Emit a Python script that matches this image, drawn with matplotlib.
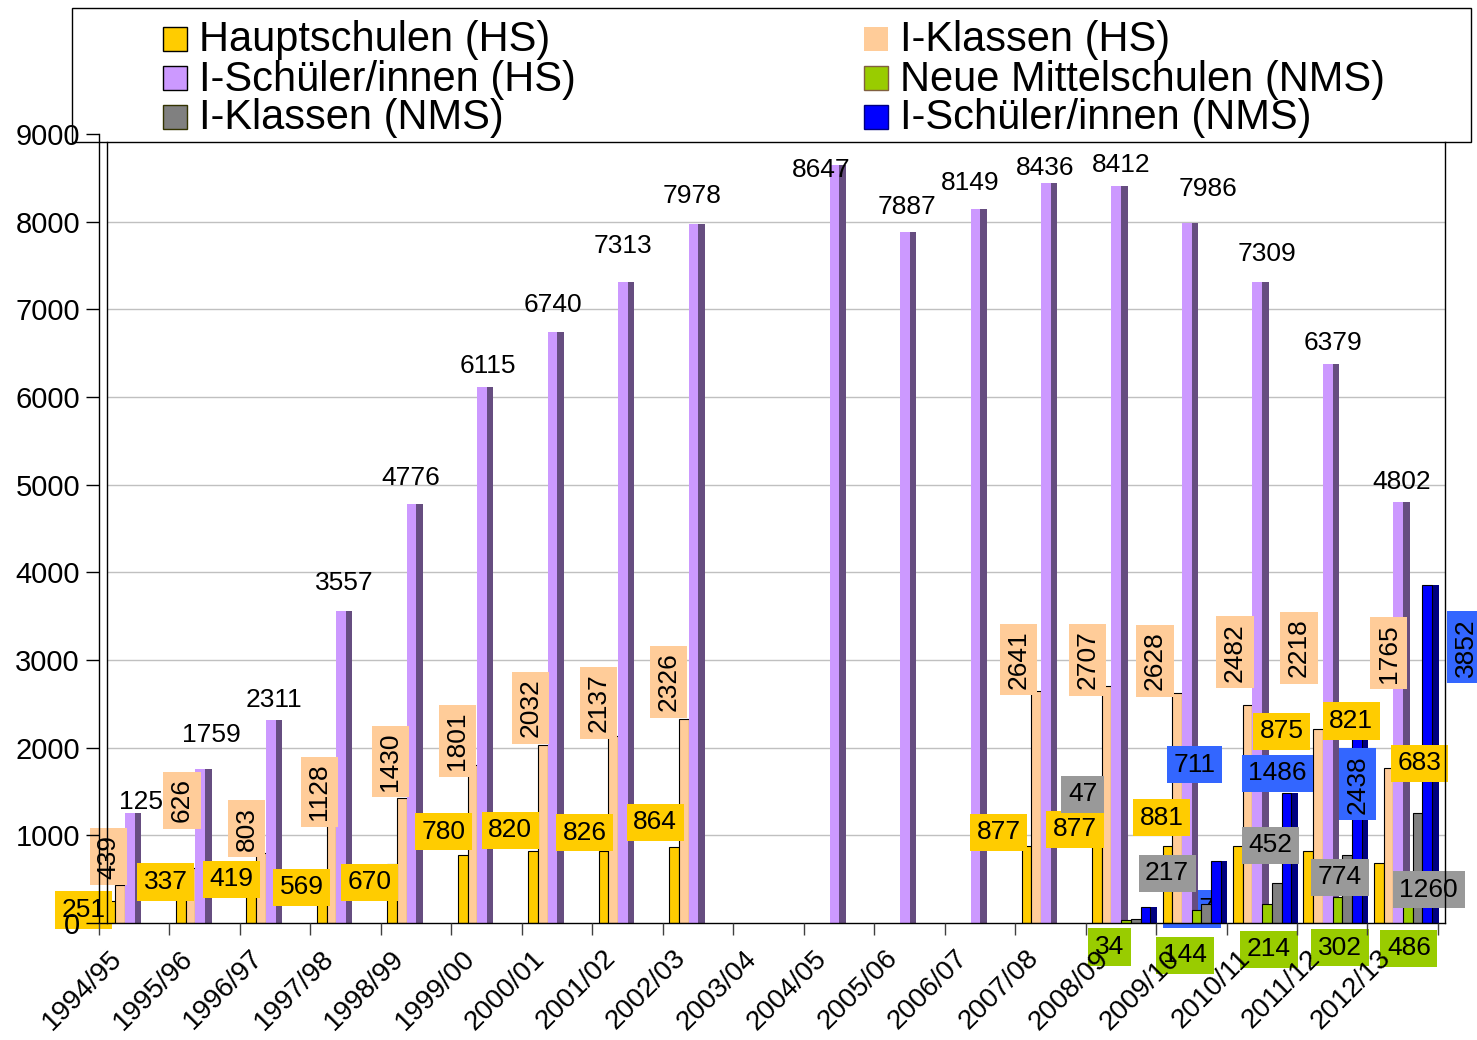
import matplotlib
matplotlib.use('Agg')
import matplotlib.pyplot as plt
import numpy as np
from matplotlib.patches import Rectangle
from matplotlib.transforms import ScaledTranslation

plt.rcParams['font.family'] = ['Liberation Sans', 'DejaVu Sans']

nan = np.nan
years = ['1994/95', '1995/96', '1996/97', '1997/98', '1998/99', '1999/00', '2000/01',
         '2001/02', '2002/03', '2003/04', '2004/05', '2005/06', '2006/07', '2007/08',
         '2008/09', '2009/10', '2010/11', '2011/12', '2012/13']
hs = [251, 337, 419, 569, 670, 780, 820, 826, 864, nan, nan, nan, nan, 877, 877, 881, 875, 821, 683]
ik_hs = [439, 626, 803, 1128, 1430, 1801, 2032, 2137, 2326, nan, nan, nan, nan, 2641, 2707, 2628, 2482, 2218, 1765]
is_hs = [1250, 1759, 2311, 3557, 4776, 6115, 6740, 7313, 7978, nan, 8647, 7887, 8149, 8436, 8412, 7986, 7309, 6379, 4802]
nms = [nan, nan, nan, nan, nan, nan, nan, nan, nan, nan, nan, nan, nan, nan, 34, 144, 214, 302, 486]
ik_nms = [nan, nan, nan, nan, nan, nan, nan, nan, nan, nan, nan, nan, nan, nan, 47, 217, 452, 774, 1260]
is_nms = [nan, nan, nan, nan, nan, nan, nan, nan, nan, nan, nan, nan, nan, nan, 177, 711, 1486, 2438, 3852]
names = ['Hauptschulen (HS)', 'I-Klassen (HS)', 'I-Schüler/innen (HS)',
         'Neue Mittelschulen (NMS)', 'I-Klassen (NMS)', 'I-Schüler/innen (NMS)']

# styles: front colour, side colour, edge colour, label box colour
styles = [('#FFCC00', '#806600', 'black', '#FFCC00'),
          ('#FFCC99', '#806650', 'black', '#FFCC99'),
          ('#CC99FF', '#664D80', 'none', None),
          ('#99CC00', '#4D6600', 'black', '#99CC00'),
          ('#808080', '#404040', 'black', '#999999'),
          ('#0000FF', '#000080', 'black', '#3366FF')]

# label placement (pixel offsets from top-centre of bar) and rotation
lab_off = [
    {0: (-27, -9), 1: (-15, 11.5), 2: (-20, 7), 3: (-20, -14), 4: (-23, -18), 5: (-19, 23),
     6: (-23, 21), 7: (-19, 18), 8: (-19, 25), 13: (-28, 14), 14: (-22, 17), 15: (-6, 28),
     16: (44, 115), 17: (43, 130), 18: (41, 100)},
    {0: (-11.5, 28), 1: (-8.5, 68), 2: (-14.5, 24), 3: (-12, 32), 4: (-11.5, 36), 5: (-15, 24),
     6: (-12.5, 37), 7: (-15, 33), 8: (-15.5, 37), 13: (-18, 32), 14: (-19.5, 26),
     15: (-22, 32), 16: (-12.5, 53), 17: (-19, 81), 18: (0, 115)},
    {0: (19, 11.5), 1: (11, 34), 2: (3, 20), 3: (3, 28.5), 4: (-1, 26), 5: (6, 21), 6: (0, 27),
     7: (0, 36), 8: (-1, 28), 10: (-13.5, -5), 11: (2.5, 25), 12: (-5.5, 25.5), 13: (-1, 15),
     14: (5, 21), 15: (21, 34), 16: (10, 28), 17: (5, 21), 18: (3, 20)},
    {14: (-16.5, -27), 15: (-11.5, -45), 16: (2, -45), 17: (2.5, -51), 18: (1, -68)},
    {14: (-53, 124.5), 15: (-39, 30.5), 16: (-6, 38), 17: (-7, -22), 18: (11, -77)},
    {14: (46.6, -1.5), 15: (-21, 96), 16: (-9, 19.5), 17: (1, -75), 18: (38.6, -62)},
]
lab_rot = [{}, {i: 90 for i in range(19)}, {}, {}, {}, {17: 90, 18: 90}]
lab_z = [2.1, 2.05, 2.0, 2.15, 2.2, 2.12]
lab_z_special = {(5, 14): 0.9}   # label hidden behind neighbouring bars

W_PX, H_PX = 1477, 1040
fig = plt.figure(figsize=(W_PX / 100, H_PX / 100), dpi=100)
ax = fig.add_axes([99 / W_PX, 117 / H_PX, 1346 / W_PX, 789 / H_PX])
ax.patch.set_visible(False)
ax.set_axisbelow(False)
ax.set_xlim(-0.493, 18.6)
ax.set_ylim(0, 9000)

x = np.arange(len(years))
W = 0.1376
SIDE = 0.092
FIRST = -0.408
series = [hs, ik_hs, is_hs, nms, ik_nms, is_nms]
for k, vals in enumerate(series):
    fc, sc, ec, bc = styles[k]
    v = np.array(vals, dtype=float)
    m = ~np.isnan(v)
    left = x + FIRST + k * W
    ax.bar(left[m] + W, v[m], width=SIDE, align='edge', color=sc, edgecolor='none',
           zorder=1 + 0.1 * k)
    ax.bar(left[m], v[m], width=W, align='edge', color=fc, edgecolor=ec,
           linewidth=0.8, zorder=1.05 + 0.1 * k)
    for i in np.where(m)[0]:
        off = lab_off[k].get(i, (0, 25))
        rot = lab_rot[k].get(i, 0)
        z = lab_z_special.get((k, i), lab_z[k])
        bbox = dict(boxstyle='square,pad=0.25', fc=bc, ec='none') if bc else None
        ax.annotate(f'{int(v[i])}', xy=(left[i] + W / 2, v[i]), xytext=off,
                    textcoords='offset pixels', ha='center', va='center', rotation=rot,
                    fontsize=19, zorder=z, annotation_clip=False, bbox=bbox)

# gridlines and 3D walls
ax.hlines(np.arange(1000, 8001, 1000), 8 / 1346, 1, transform=ax.get_yaxis_transform(),
          colors='#C0C0C0', lw=1, zorder=0.5)
top_frac = (923 - 142) / 789
ax.plot([8 / 1346, 8 / 1346], [0, top_frac], transform=ax.transAxes, color='black', lw=1,
        clip_on=False, zorder=2.5)
ax.plot([1, 1], [0, top_frac], transform=ax.transAxes, color='black', lw=1,
        clip_on=False, zorder=2.5)

for s in ['top', 'right']:
    ax.spines[s].set_visible(False)
for s in ['left', 'bottom']:
    ax.spines[s].set_linewidth(1)
    ax.spines[s].set_color('black')

ax.set_yticks(np.arange(0, 9001, 1000))
ax.tick_params(axis='y', direction='out', length=9.4, width=1, pad=4.3, labelsize=21)

ax.set_xticks(x)
ax.set_xticklabels(years, rotation=45, ha='right', va='top', rotation_mode='anchor', fontsize=20)
ax.set_xticks(np.arange(-0.5, 19, 1), minor=True)
ax.tick_params(axis='x', which='major', length=0, pad=16)
ax.tick_params(axis='x', which='minor', length=8.6, width=1, color='#404040')
for lab in ax.get_xticklabels():
    lab.set_transform(lab.get_transform() + ScaledTranslation(-25 / 100, 0, fig.dpi_scale_trans))


def fx(px):
    return px / W_PX


def fy(py):
    return 1 - py / H_PX


fig.add_artist(Rectangle((fx(72), fy(142)), (1471 - 72) / W_PX, (142 - 8) / H_PX,
                         transform=fig.transFigure, fc='white', ec='black', lw=1, zorder=-1))
legend_items = [(0, 0, 0), (2, 0, 1), (4, 0, 2), (1, 1, 0), (3, 1, 1), (5, 1, 2)]
col_sq = [163, 864]
col_tx = [199, 900]
row_top = [27, 66, 105]
row_base = [50.7, 90.5, 129]
leg_edges = ['black', 'none', 'black', '#806040', '#333300', '#000080']
for k, c, r in legend_items:
    fig.add_artist(Rectangle((fx(col_sq[c]), fy(row_top[r] + 23.5)), 24 / W_PX, 23.5 / H_PX,
                             transform=fig.transFigure, fc=styles[k][0], ec=leg_edges[k],
                             lw=1, zorder=3))
    fig.text(fx(col_tx[c]), fy(row_base[r]), names[k], fontsize=30, ha='left', va='baseline')

fig.savefig('out.png', dpi=100)
